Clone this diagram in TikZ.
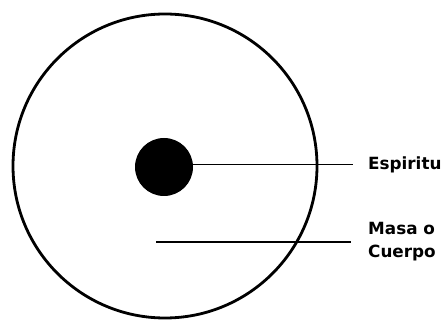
\documentclass[tikz,border=0pt]{standalone}
\usepackage{fontspec}
\setmainfont{DejaVu Sans}
\begin{document}
\begin{tikzpicture}[x=1pt,y=-1pt,
  lbl/.style={anchor=west,inner sep=0pt,font=\bfseries\fontsize{16.8}{23}\selectfont,align=left},
  lead/.style={draw=black,line width=1.4pt}]
\useasboundingbox (0,0) rectangle (444,320);
\node[circle,draw=black,line width=2.8pt,minimum size=304pt,inner sep=0pt] (outer) at (165,166) {};
\node[circle,fill=black,minimum size=58pt,inner sep=0pt] (dot) at (164,167) {};
\node[lbl] (esp) at (368,165) {Espiritu};
\node[lbl] (masa) at (368,242) {Masa o\\Cuerpo};
\coordinate (espend) at (353,164.5);
\coordinate (masastart) at (156,242);
\coordinate (masaend) at (351,242);
\draw[lead] (dot.east |- espend) -- (espend);
\draw[lead,line width=2.2pt] (masastart) -- (masaend);
\end{tikzpicture}
\end{document}
